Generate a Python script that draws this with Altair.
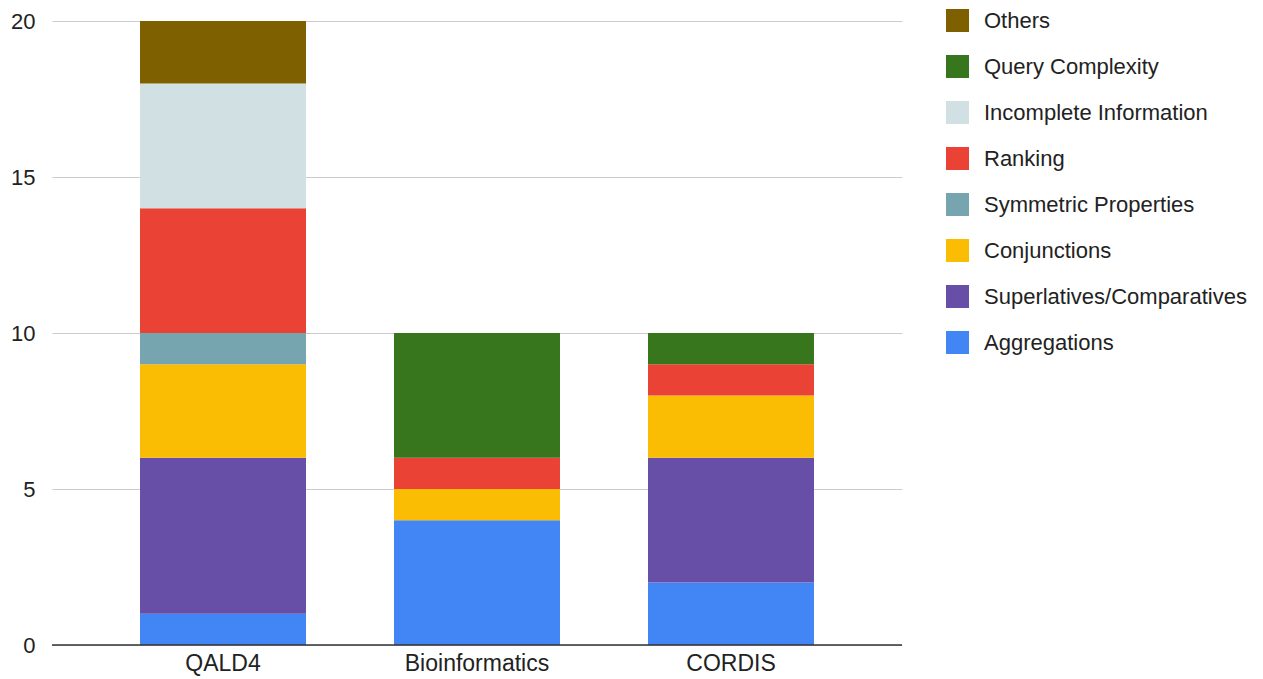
import altair as alt
import pandas as pd

categories = ["QALD4", "Bioinformatics", "CORDIS"]
series = ["Aggregations", "Superlatives/Comparatives", "Conjunctions",
          "Symmetric Properties", "Ranking", "Incomplete Information",
          "Query Complexity", "Others"]
colors = ["#4285F4", "#674EA7", "#FBBC04", "#76A5AF", "#EA4335", "#D0E0E3",
          "#38761D", "#7F6000"]

aggregations = [1, 4, 2]
superlatives = [5, 0, 4]
conjunctions = [3, 1, 2]
symmetric = [1, 0, 0]
ranking = [4, 1, 1]
incomplete = [4, 0, 0]
query_complexity = [0, 4, 1]
others = [2, 0, 0]

all_values = [aggregations, superlatives, conjunctions, symmetric, ranking,
              incomplete, query_complexity, others]

rows = []
for si, (s, vals) in enumerate(zip(series, all_values)):
    for c, v in zip(categories, vals):
        if v > 0:
            rows.append({"dataset": c, "type": s, "count": v, "idx": si})
df = pd.DataFrame(rows)

FONT = "Liberation Sans"

bars = alt.Chart(df).mark_bar().encode(
    x=alt.X("dataset:N", sort=categories, title=None,
            scale=alt.Scale(paddingInner=0.3465, paddingOuter=0.3465),
            axis=alt.Axis(labelAngle=0, domain=False, ticks=False, labelPadding=7,
                          labelFontSize=23, labelColor="#222", labelFont=FONT)),
    y=alt.Y("count:Q", stack="zero", title=None,
            scale=alt.Scale(domain=[0, 20], nice=False),
            axis=alt.Axis(values=[0, 5, 10, 15, 20], domain=False, ticks=False,
                          labelPadding=17, labelFontSize=22, labelColor="#222",
                          labelFont=FONT, gridColor="#cccccc")),
    color=alt.Color("type:N",
                    scale=alt.Scale(domain=series[::-1], range=colors[::-1]),
                    legend=alt.Legend(title=None, orient="none", legendX=894, legendY=-12,
                                      symbolType="square", symbolSize=529,
                                      symbolStrokeWidth=0, rowPadding=23,
                                      labelOffset=15, labelFontSize=22,
                                      labelColor="#222", labelFont=FONT,
                                      labelLimit=400)),
    order=alt.Order("idx:Q", sort="ascending"),
)

base = alt.Chart(pd.DataFrame({"y": [0]})).mark_rule(color="#333333", strokeWidth=1.5).encode(
    y=alt.Y("y:Q")
)

chart = alt.layer(bars, base).properties(
    width=850, height=624,
    autosize=alt.AutoSizeParams(type="none"),
    padding={"left": 44, "top": 13, "right": 353, "bottom": 34},
).configure_view(stroke=None)

chart.save("out.html", embed_options={"renderer": "svg", "actions": False})
